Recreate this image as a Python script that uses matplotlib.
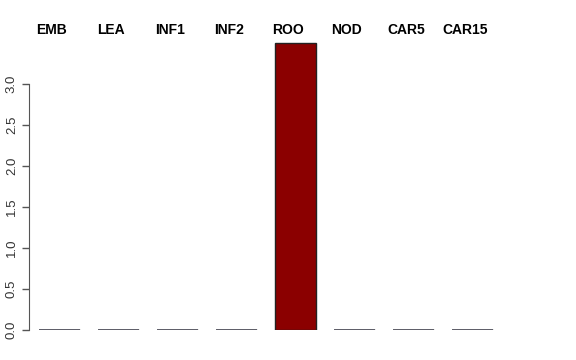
import numpy as np
import matplotlib
matplotlib.use("Agg")
import matplotlib.pyplot as plt

plt.rcParams["font.family"] = ["Liberation Sans", "DejaVu Sans"]

# データ
tissues = ["EMB", "LEA", "INF1", "INF2", "ROO", "NOD", "CAR5", "CAR15"]
values = [0.0, 0.0, 0.0, 0.0, 3.5, 0.0, 0.0, 0.0]
yticks = [0.0, 0.5, 1.0, 1.5, 2.0, 2.5, 3.0]

W, H = 576, 360
fig = plt.figure(figsize=(W / 100, H / 100), dpi=100)

# 軸の位置（ピクセル指定）
left, right, bottom, top = 29, 560, 30, 340
ax = fig.add_axes([left / W, bottom / H, (right - left) / W, (top - bottom) / H])

px_per_bar = 59.0
px_per_unit = 82.0
ax.set_xlim((left - 59.5) / px_per_bar, (right - 59.5) / px_per_bar)
ax.set_ylim(-(H - 330 - bottom) / px_per_unit, (330 - (H - top)) / px_per_unit)

x = np.arange(len(tissues))
vals = np.array(values)
bw = 0.71
ax.bar(x, vals, width=bw, color="darkred", edgecolor="#222222", linewidth=1.0)

# 高さ0の棒は線だけ（Rのbarplotと同じ見た目）
zero = vals == 0
ax.hlines(vals[zero], x[zero] - bw / 2, x[zero] + bw / 2, color="#4a4a55", linewidth=1.2)

# 上部のラベル（棒の中心より少し左）
lab_shift = -7.5 / px_per_bar
for xi, name in zip(x, tissues):
    ax.text(xi + lab_shift, (330 - 30) / px_per_unit, name, ha="center", va="center",
            fontsize=10, fontweight="bold", clip_on=False)

# R風の軸
for s in ["top", "right", "bottom"]:
    ax.spines[s].set_visible(False)
ax.spines["left"].set_bounds(0, 3)
ax.spines["left"].set_color("#555555")
ax.set_xticks([])
ax.set_yticks(yticks)
ax.set_yticklabels([f"{t:.1f}" for t in yticks], rotation=90, va="center",
                   fontsize=9.5, color="#333333")
ax.tick_params(axis="y", length=5, width=1, color="#555555", pad=3)

fig.savefig("out.png", dpi=100)
